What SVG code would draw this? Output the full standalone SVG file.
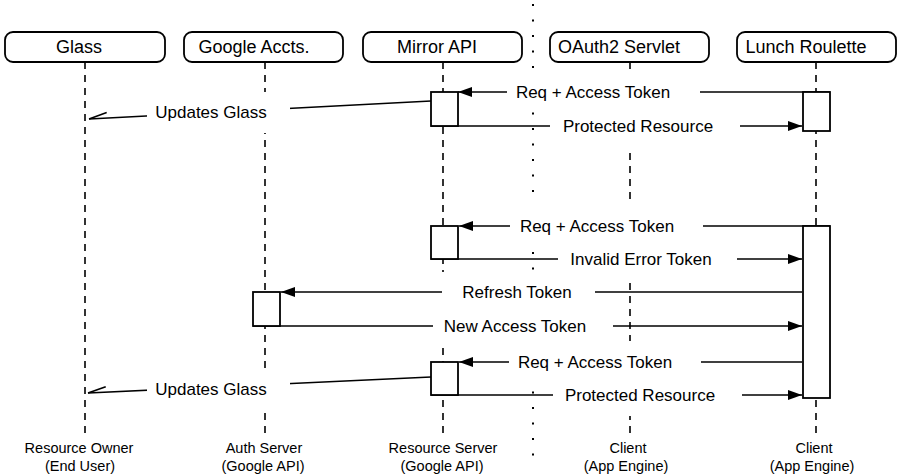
<svg xmlns="http://www.w3.org/2000/svg" width="900" height="476" viewBox="0 0 900 476">
<defs>
<style>
.hdr{fill:#fff;stroke:#000;stroke-width:1.8}
.ht{font-family:"Liberation Sans",Arial,sans-serif;font-size:18px;fill:#000;text-anchor:middle}
.life{stroke:#000;stroke-width:1.6;stroke-dasharray:7 6;fill:none}
.sep{stroke:#000;stroke-width:2;stroke-dasharray:2 13.5;fill:none}
.act{fill:#fff;stroke:#000;stroke-width:1.8}
.msg{stroke:#000;stroke-width:1.6;fill:none}
.bg{fill:#fff;stroke:none}
.lt{font-family:"Liberation Sans",Arial,sans-serif;font-size:17px;fill:#000;text-anchor:middle}
.bt{font-family:"Liberation Sans",Arial,sans-serif;font-size:14.5px;fill:#000;text-anchor:middle}
</style>
<marker id="ah" markerUnits="userSpaceOnUse" markerWidth="16" markerHeight="12" refX="14" refY="5" orient="auto" overflow="visible">
<path d="M0,0 L14,5 L0,10 z" fill="#000"/>
</marker>
<marker id="half" markerUnits="userSpaceOnUse" markerWidth="20" markerHeight="10" refX="0" refY="0" orient="auto" overflow="visible">
<path d="M0,0 L-18,5.5" stroke="#000" stroke-width="1.6" fill="none"/>
</marker>
</defs>
<rect width="900" height="476" fill="#fff"/>

<g id="lifelines">
<line class="life" x1="85" y1="62" x2="85" y2="436"/>
<line class="life" x1="265" y1="62" x2="265" y2="436"/>
<line class="life" x1="443" y1="62" x2="443" y2="436"/>
<line class="life" x1="630" y1="62" x2="630" y2="436"/>
<line class="life" x1="816" y1="62" x2="816" y2="436"/>
<line class="sep" x1="533" y1="4" x2="533" y2="460"/>
</g>

<g id="connectors">
<line class="msg" x1="830" y1="92" x2="458" y2="92" marker-end="url(#ah)"/>
<line class="msg" x1="431" y1="126" x2="802" y2="126" marker-end="url(#ah)"/>
<line class="msg" x1="431" y1="101" x2="89" y2="119" marker-end="url(#half)"/>
<line class="msg" x1="830" y1="226" x2="459" y2="226" marker-end="url(#ah)"/>
<line class="msg" x1="431" y1="259" x2="802" y2="259" marker-end="url(#ah)"/>
<line class="msg" x1="802" y1="292" x2="281" y2="292" marker-end="url(#ah)"/>
<line class="msg" x1="253" y1="326" x2="802" y2="326" marker-end="url(#ah)"/>
<line class="msg" x1="802" y1="362" x2="459" y2="362" marker-end="url(#ah)"/>
<line class="msg" x1="431" y1="395" x2="802" y2="395" marker-end="url(#ah)"/>
<line class="msg" x1="431" y1="377" x2="88" y2="393" marker-end="url(#half)"/>
</g>

<g id="label-backgrounds">
<rect class="bg" x="507" y="71" width="193" height="41"/>
<rect class="bg" x="550" y="106" width="190" height="41"/>
<rect class="bg" x="147" y="92" width="143" height="41"/>
<rect class="bg" x="510" y="205" width="193" height="41"/>
<rect class="bg" x="558" y="239" width="179" height="41"/>
<rect class="bg" x="442" y="272" width="153" height="41"/>
<rect class="bg" x="433" y="306" width="180" height="41"/>
<rect class="bg" x="509" y="341" width="192" height="41"/>
<rect class="bg" x="553" y="375" width="189" height="41"/>
<rect class="bg" x="147" y="369" width="143" height="41"/>
</g>

<g id="labels">
<text class="lt" x="593" y="98">Req + Access Token</text>
<text class="lt" x="638" y="132">Protected Resource</text>
<text class="lt" x="211" y="118">Updates Glass</text>
<text class="lt" x="597" y="232">Req + Access Token</text>
<text class="lt" x="641" y="265">Invalid Error Token</text>
<text class="lt" x="517" y="298">Refresh Token</text>
<text class="lt" x="515" y="332">New Access Token</text>
<text class="lt" x="595" y="368">Req + Access Token</text>
<text class="lt" x="640" y="401">Protected Resource</text>
<text class="lt" x="211" y="395">Updates Glass</text>
</g>

<g id="glass">
<rect class="hdr" x="5" y="32" width="160" height="30" rx="8"/>
<text class="ht" x="79" y="53">Glass</text>
<text class="bt" x="79" y="453">Resource Owner</text>
<text class="bt" x="80" y="471">(End User)</text>
</g>

<g id="google-accts">
<rect class="hdr" x="184" y="32" width="159" height="30" rx="8"/>
<text class="ht" x="254" y="53">Google Accts.</text>
<rect class="act" x="253" y="292" width="27" height="34"/>
<text class="bt" x="264" y="453">Auth Server</text>
<text class="bt" x="263" y="471">(Google API)</text>
</g>

<g id="mirror-api">
<rect class="hdr" x="363" y="32" width="159" height="30" rx="8"/>
<text class="ht" x="437" y="53">Mirror API</text>
<rect class="act" x="431" y="92" width="27" height="34"/>
<rect class="act" x="431" y="226" width="27" height="33"/>
<rect class="act" x="431" y="362" width="27" height="33"/>
<text class="bt" x="443" y="453">Resource Server</text>
<text class="bt" x="442" y="471">(Google API)</text>
</g>

<g id="oauth2-servlet">
<rect class="hdr" x="550" y="32" width="159" height="30" rx="8"/>
<text class="ht" x="619" y="53">OAuth2 Servlet</text>
<text class="bt" x="628" y="453">Client</text>
<text class="bt" x="626" y="471">(App Engine)</text>
</g>

<g id="lunch-roulette">
<rect class="hdr" x="737" y="32" width="159" height="30" rx="8"/>
<text class="ht" x="806" y="53">Lunch Roulette</text>
<rect class="act" x="803" y="92" width="27" height="39"/>
<rect class="act" x="803" y="226" width="27" height="172"/>
<text class="bt" x="814" y="453">Client</text>
<text class="bt" x="812" y="471">(App Engine)</text>
</g>
</svg>
